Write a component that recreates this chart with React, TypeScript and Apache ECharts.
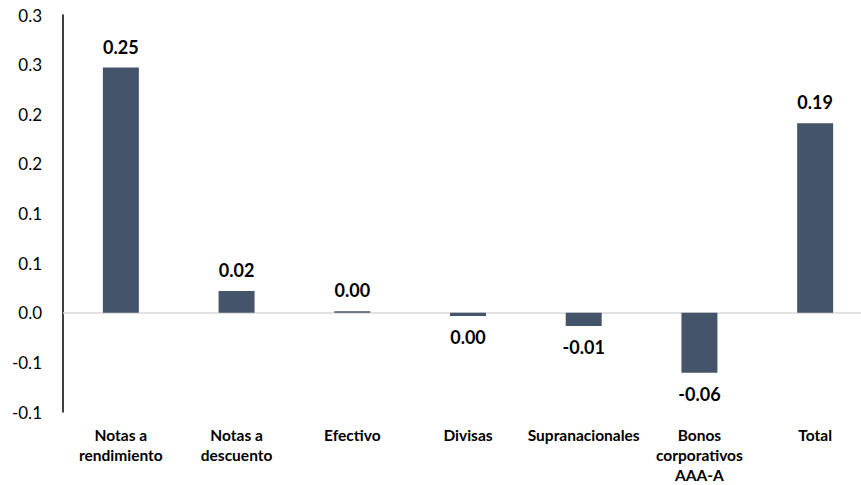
import React, { useEffect, useRef } from "react";
import * as echarts from "echarts";

// Categories and contribution values
const categories = [
  "Notas a\nrendimiento",
  "Notas a\ndescuento",
  "Efectivo",
  "Divisas",
  "Supranacionales",
  "Bonos\ncorporativos\nAAA-A",
  "Total",
];
const values = [0.247, 0.022, 0.0014, -0.0033, -0.0134, -0.0604, 0.191];

// Y-axis tick labels, from the lowest tick (-0.10) to the highest (0.30), step 0.05
const yTickLabels = ["-0.1", "-0.1", "0.0", "0.1", "0.1", "0.2", "0.2", "0.3", "0.3"];

const FONT = "Lato, 'Noto Sans', sans-serif";
const BAR_COLOR = "#44546a";

function formatValue(v: number): string {
  const s = v.toFixed(2);
  return s === "-0.00" ? "0.00" : s;
}

export default function App() {
  const ref = useRef<HTMLDivElement>(null);

  useEffect(() => {
    if (!ref.current) return;
    const chart = echarts.init(ref.current, undefined, { renderer: "svg" });

    const data = values.map((v) => ({
      value: v,
      label: { position: v < 0 ? "bottom" : "top" },
    }));

    chart.setOption({
      animation: false,
      backgroundColor: "#ffffff",
      // plot area runs past the right edge of the canvas, so the last band is cut off
      grid: {
        left: 63,
        width: 810,
        top: 15,
        height: 397,
        outerBoundsMode: "none",
        containLabel: false,
      },
      xAxis: {
        type: "category",
        data: categories,
        axisLine: { show: false },
        axisTick: { show: false },
        axisLabel: {
          interval: 0,
          margin: 13,
          color: "#000000",
          fontFamily: FONT,
          fontWeight: "bold",
          fontSize: 15.5,
          lineHeight: 20,
        },
      },
      yAxis: {
        type: "value",
        min: -0.1,
        max: 0.3,
        interval: 0.05,
        splitLine: { show: false },
        axisTick: { show: false },
        axisLine: { show: true, lineStyle: { color: "#000000", width: 1.5 } },
        axisLabel: {
          margin: 21,
          color: "#000000",
          fontFamily: FONT,
          fontSize: 17,
          formatter: (_v: number, idx: number) => yTickLabels[idx] ?? "",
        },
      },
      series: [
        {
          type: "bar",
          data,
          barWidth: 36,
          itemStyle: { color: BAR_COLOR },
          label: {
            show: true,
            distance: 12,
            color: "#000000",
            fontFamily: FONT,
            fontWeight: "bold",
            fontSize: 18,
            formatter: (p: any) => formatValue(p.value),
          },
          markLine: {
            silent: true,
            symbol: "none",
            label: { show: false },
            lineStyle: { color: "#d9d9d9", width: 1.5, type: "solid" },
            data: [{ yAxis: 0 }],
            z: 1,
          },
          z: 2,
        },
      ],
    });

    return () => chart.dispose();
  }, []);

  return (
    <div
      ref={ref}
      style={{ position: "fixed", left: 0, top: 0, width: 861, height: 485 }}
    />
  );
}
